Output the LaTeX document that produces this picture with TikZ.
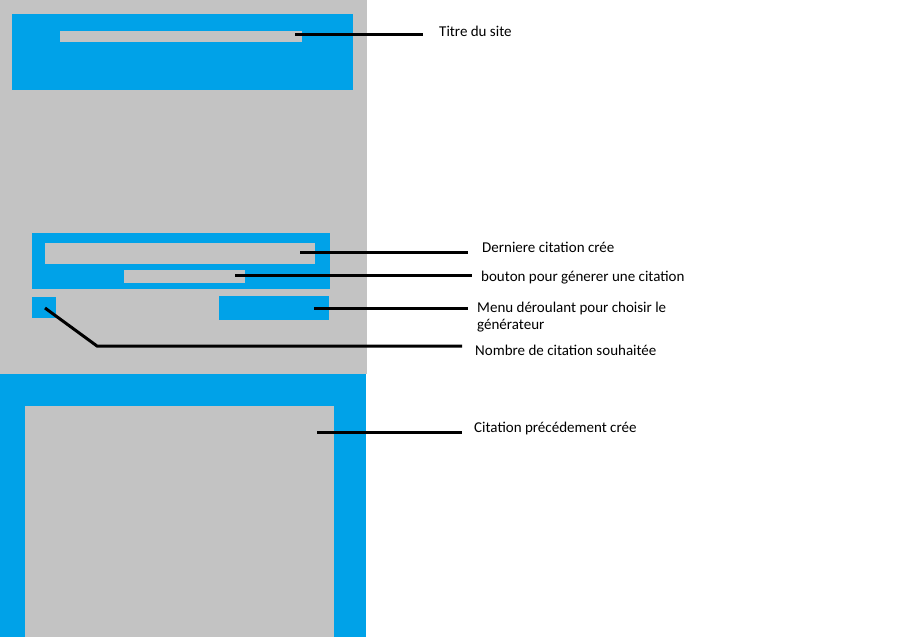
\documentclass[tikz,border=0pt]{standalone}
\usepackage{fontspec}
\setmainfont{Carlito}
\definecolor{pblue}{HTML}{00A2E8}
\definecolor{pgray}{HTML}{C3C3C3}
\begin{document}
\begin{tikzpicture}[x=1pt,y=-1pt,
  blk/.style={fill=pblue,draw=none},
  gry/.style={fill=pgray,draw=none},
  lead/.style={line width=3pt,black},
  lbl/.style={anchor=west,inner sep=0pt,font=\fontsize{15}{17}\selectfont,align=left}]
\useasboundingbox (0,0) rectangle (921,637);
\fill[white] (0,0) rectangle (921,637);
% background panel
\fill[gry] (0,0) rectangle (367,374);
% title block
\fill[blk] (12,14) rectangle (353,90);
\fill[gry] (60,31) rectangle (302,42);
% latest quote block
\fill[blk] (32,233) rectangle (330,289);
\fill[gry] (45,243) rectangle (315,264);
\fill[gry] (124,270) rectangle (245,283);
\fill[blk] (32,297) rectangle (56,318);
\fill[blk] (219,296) rectangle (329,320);
% previous quotes block
\fill[blk] (0,374) rectangle (366,637);
\fill[gry] (25,406) rectangle (334,637);
% labels
\node[lbl] (t1) at (439,31) {Titre du site};
\node[lbl] (t2) at (482,247) {Derniere citation crée};
\node[lbl] (t3) at (481,278) {bouton pour génerer une citation};
\node[lbl] (t4) at (477,317.5) {Menu déroulant pour choisir le\\générateur};
\node[lbl] (t5) at (475,350) {Nombre de citation souhaitée};
\node[lbl] (t6) at (474,428) {Citation précédement crée};
% leader lines
\coordinate (a1) at (295,34);  \coordinate (b1) at (423,34);
\coordinate (a2) at (300,252); \coordinate (b2) at (468,252);
\coordinate (a3) at (235,275); \coordinate (b3) at (472,275);
\coordinate (a4) at (314,308); \coordinate (b4) at (468,308);
\coordinate (a5) at (45,308);  \coordinate (m5) at (97,346); \coordinate (b5) at (462,346);
\coordinate (a6) at (317,432); \coordinate (b6) at (462,432);
\draw[lead] (a1) -- (b1);
\draw[lead] (a2) -- (b2);
\draw[lead] (a3) -- (b3);
\draw[lead] (a4) -- (b4);
\draw[lead] (a5) -- (m5) -- (b5);
\draw[lead] (a6) -- (b6);
\end{tikzpicture}
\end{document}
